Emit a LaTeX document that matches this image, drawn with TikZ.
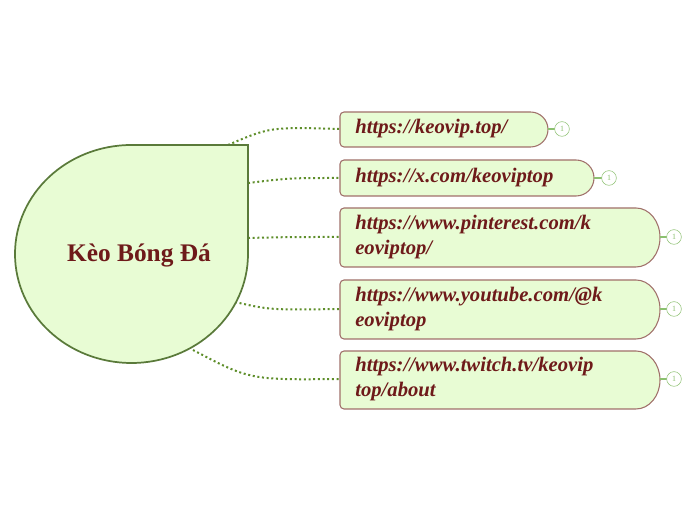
\documentclass[tikz,border=0pt]{standalone}
\usepackage{fontspec}
\setmainfont{Liberation Serif}
\definecolor{txt}{HTML}{6E1A1A}
\definecolor{fillg}{HTML}{E8FCD4}
\definecolor{brd}{HTML}{A0706A}
\definecolor{cgreen}{HTML}{5E8E2A}
\definecolor{sgreen}{HTML}{5A7A3A}
\definecolor{lgreen}{HTML}{8CC070}
\tikzset{x=0.75pt,y=0.75pt,
 lbl/.style={anchor=west,font=\bfseries\itshape\fontsize{15.5}{16}\selectfont,text=txt,align=left,inner sep=0},
 conn/.style={cgreen,line width=1.5pt,dotted},
 cnt/.style={circle,draw=lgreen,fill=white,minimum size=11,inner sep=0,font=\fontsize{6}{6}\selectfont,text=lgreen}}
\newcommand\mybox[5]{% x1 x2 top bot r
 \filldraw[fill=fillg,draw=brd,line width=0.8pt] (#1+4,#3) -- (#2-#5,#3) arc[start angle=90,end angle=-90,x radius=#5,y radius=(#3-#4)/2] -- (#1+4,#4) arc[start angle=270,end angle=180,radius=4] -- (#1,#3-4) arc[start angle=180,end angle=90,radius=4] -- cycle;}
\begin{document}
\begin{tikzpicture}
\useasboundingbox (0,0) rectangle (697,520);
% connectors
\coordinate (s1) at (228,375); \coordinate (e1) at (340,391);
\coordinate (s2) at (248,337); \coordinate (e2) at (340,342);
\coordinate (s3) at (248,282); \coordinate (e3) at (340,283);
\coordinate (s4) at (235,218); \coordinate (e4) at (340,211);
\coordinate (s5) at (193,170); \coordinate (e5) at (340,141);
\draw[conn] (s1) .. controls (270,393) .. (e1);
\draw[conn] (s2) .. controls (290,342) .. (e2);
\draw[conn] (s3) .. controls (290,283) .. (e3);
\draw[conn] (s4) .. controls (270,210) .. (e4);
\draw[conn] (s5) .. controls (250,140) .. (e5);
% central
\filldraw[fill=fillg,draw=sgreen,line width=1.3pt] (131.5,375) -- (248,375) -- (248,266) arc[start angle=0,end angle=-270,x radius=116.5,y radius=109] -- cycle;
\node[font=\bfseries\fontsize{19}{22}\selectfont,text=txt] (c) at (139,264) {Kèo Bóng Đá};
% boxes
\mybox{340}{548}{408}{373}{17.5}
\mybox{340}{594}{360}{324}{18}
\mybox{340}{660}{312}{253}{24}
\mybox{340}{660}{240}{181}{24}
\mybox{340}{660}{169}{111}{24}
\node[lbl] (t1) at (355,391) {https://keovip.top/};
\node[lbl] (t2) at (355,342) {https://x.com/keoviptop};
\node[lbl] (t3) at (355,283) {https://www.pinterest.com/k\\[3pt]eoviptop/};
\node[lbl] (t4) at (355,211) {https://www.youtube.com/@k\\[3pt]eoviptop};
\node[lbl] (t5) at (355,141) {https://www.twitch.tv/keovip\\[3pt]top/about};
% counters
\foreach \n/\xa/\xc/\y in {a/548/562/391,b/594/609/342,c/660/674/283,d/660/674/211,e/660/674/141}{
 \draw[lgreen,line width=1pt] (\xa,\y) -- (\xc,\y);
 \node[cnt] (k\n) at (\xc,\y) {1};}
\end{tikzpicture}
\end{document}
